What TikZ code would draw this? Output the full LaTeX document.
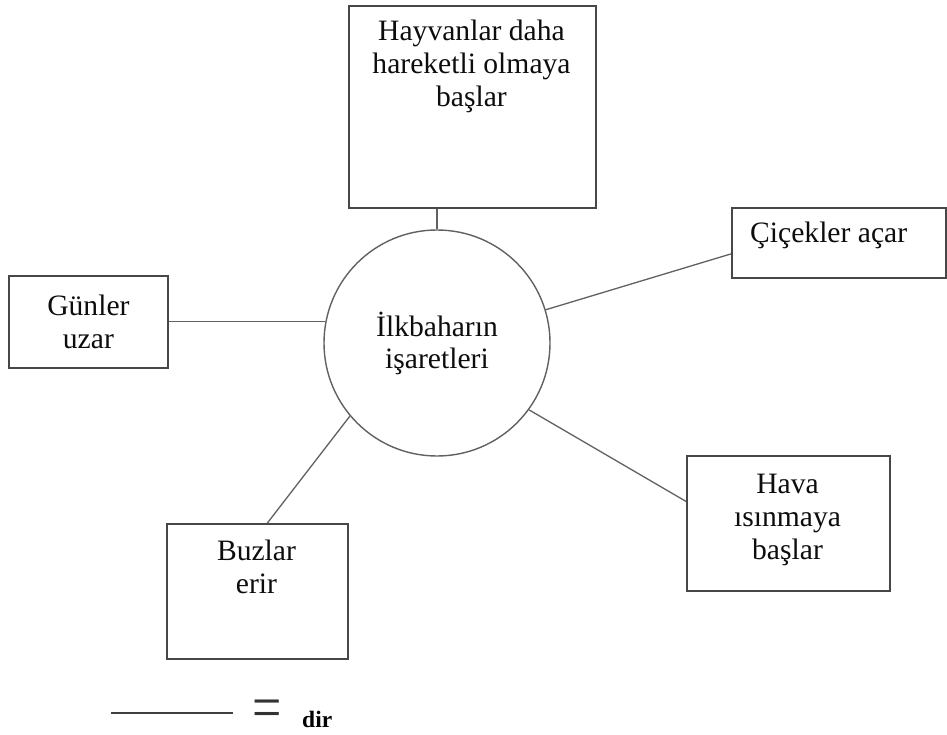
\documentclass[tikz,border=0pt]{standalone}
\usepackage{fontspec}
\setmainfont{Liberation Serif}
\begin{document}
\begin{tikzpicture}[x=1pt,y=-1pt,
  box/.style={draw=black!72, line width=1.8pt, fill=white, inner sep=0pt,
    align=center, text=black!95, font=\fontsize{29.6}{33}\selectfont},
  link/.style={draw=black!62, line width=1.3pt},
  lbl/.style={inner sep=0pt, align=center, text=black!95,
    font=\fontsize{29.6}{33}\selectfont},
  hub/.style={circle, draw=black!62, line width=1.4pt, minimum size=226pt,
    inner sep=0pt, align=center, text=black!95, font=\fontsize{29.6}{32}\selectfont}
]
\fill[white] (0,0) rectangle (947,735);
\useasboundingbox (0,0) rectangle (947,735);

% central idea
\node[hub] (hub) at (437,343) {İlkbaharın\\işaretleri};

% surrounding boxes
\node[box, anchor=north west, minimum width=247pt, minimum height=202pt] (hay) at (348,5) {};
\node[box, anchor=north west, minimum width=159pt, minimum height=92pt] (gun) at (8,275) {Günler\\uzar};
\node[box, anchor=north west, minimum width=214pt, minimum height=70pt] (cic) at (731,207) {};
\node[box, anchor=north west, minimum width=203pt, minimum height=135pt] (hava) at (686,455) {};
\node[box, anchor=north west, minimum width=181pt, minimum height=135pt] (buz) at (166,523) {};

% box texts
\node[lbl, anchor=north] (hayt) at (471.5,20) {Hayvanlar daha\\hareketli olmaya\\başlar};
\node[lbl, anchor=base west] (cict) at (750,243) {Çiçekler açar};
\node[lbl, anchor=north] (havat) at (787.5,473.5) {Hava\\ısınmaya\\başlar};
\node[lbl, anchor=north] (buzt) at (256.5,539.5) {Buzlar\\erir};

% connectors
\draw[link] (hub.north) -- (hub.north |- hay.south);
\draw[link] (hub.169) -- (hub.169 -| gun.east);
\draw[link] (hub.17) -- ([yshift=-11pt]cic.west);
\draw[link] (hub.-36) -- ([yshift=22pt]hava.west);
\draw[link] (hub.220) -- ([xshift=10pt]buz.north);

% legend
\coordinate (keya) at (111,713);
\coordinate (keyb) at (233,713);
\draw[draw=black!75, line width=1.8pt] (keya) -- (keyb);
\node[inner sep=0pt, anchor=base, text=black!80, font=\fontsize{52}{52}\selectfont] (eq) at (267.5,728) {\scalebox{1}[1.2]{=}};
\node[inner sep=0pt, anchor=base west, text=black, font=\fontsize{23.5}{24}\selectfont\bfseries] (dir) at (302,727) {dir};
\end{tikzpicture}
\end{document}
